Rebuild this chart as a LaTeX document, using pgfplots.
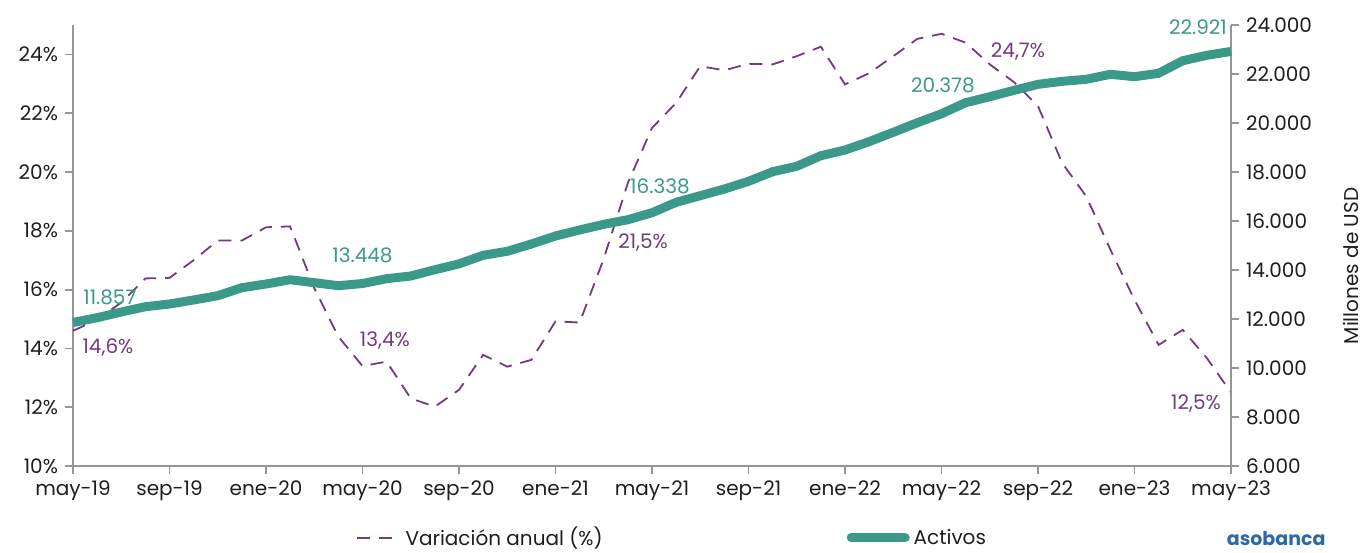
\documentclass[border=0pt]{standalone}
\usepackage{pgfplots}
\pgfplotsset{compat=1.18}
\usepackage{pgfplotstable}
\usepackage{fontspec}
\setmainfont{Poppins}
\usetikzlibrary{calc}
\definecolor{teal1}{RGB}{59,153,138}
\definecolor{purp}{RGB}{112,60,125}
\definecolor{axgray}{RGB}{150,150,150}
\definecolor{txt}{RGB}{30,30,30}
\definecolor{logo}{RGB}{45,105,165}

\pgfplotstableread{
x var act
0 14.60 11857
1 14.97 12053
2 15.56 12286
3 16.38 12502
4 16.40 12612
5 17.00 12776
6 17.67 12951
7 17.67 13278
8 18.12 13429
9 18.15 13604
10 16.05 13482
11 14.40 13359
12 13.40 13448
13 13.55 13645
14 12.30 13755
15 12.02 14012
16 12.59 14250
17 13.78 14600
18 13.38 14763
19 13.61 15061
20 14.92 15388
21 14.88 15633
22 17.05 15865
23 19.63 16053
24 21.50 16338
25 22.35 16763
26 23.60 17033
27 23.46 17306
28 23.68 17620
29 23.66 18012
30 23.94 18233
31 24.26 18665
32 22.98 18898
33 23.36 19240
34 23.94 19620
35 24.53 20012
36 24.70 20378
37 24.40 20829
38 23.66 21073
39 23.06 21333
40 22.24 21578
41 20.31 21700
42 19.17 21784
43 17.36 21988
44 15.65 21890
45 14.12 22029
46 14.63 22543
47 13.67 22763
48 12.50 22921
}\data

\pgfplotsset{
  base/.style={
    scale only axis, width=579pt, height=220.5pt,
    xmin=0, xmax=48, clip=false,
    scaled y ticks=false,
    axis line style={axgray, line width=0.9pt},
    tick style={axgray, line width=0.9pt},
    tick align=outside, major tick length=4pt,
    ticklabel style={font=\fontsize{10}{12}\selectfont, text=txt},
  }
}

\begin{document}
\begin{tikzpicture}
\begin{axis}[base,
  axis y line*=left, axis x line*=bottom,
  ymin=10, ymax=25,
  ytick={10,12,14,16,18,20,22,24},
  yticklabels={10\%,12\%,14\%,16\%,18\%,20\%,22\%,24\%},
  xtick={0,4,...,48},
  xticklabels={may-19,sep-19,ene-20,may-20,sep-20,ene-21,may-21,sep-21,ene-22,may-22,sep-22,ene-23,may-23},
]
\addplot[purp, line width=0.9pt, dash pattern=on 6.5pt off 4.5pt] table[x=x,y=var]{\data};
\begin{scope}[font=\fontsize{10}{12}\selectfont, text=purp]
\node at (axis cs:1.45,14.02) {14,6\%};
\node at (axis cs:12.93,14.26) {13,4\%};
\node at (axis cs:23.63,17.6) {21,5\%};
\node at (axis cs:39.17,24.1) {24,7\%};
\node at (axis cs:46.55,12.11) {12,5\%};
\end{scope}
\end{axis}
\begin{axis}[base,
  axis y line*=right, axis x line=none,
  ymin=6000, ymax=24000,
  ytick={6000,8000,...,24000},
  yticklabels={6.000,8.000,10.000,12.000,14.000,16.000,18.000,20.000,22.000,24.000},
  ylabel={Millones de USD},
  ylabel style={at={(axis description cs:1.104,0.4535)}, anchor=center, font=\fontsize{10}{12}\selectfont, text=txt},
  legend style={at={(rel axis cs:0.518,-0.163)}, anchor=center, draw=none, fill=none,
    font=\fontsize{10}{12}\selectfont, text=txt,
    legend columns=2, /tikz/every even column/.append style={column sep=120pt}},
]
\addlegendimage{legend image code/.code={\draw[purp, line width=0.9pt, dash pattern=on 6.5pt off 4.5pt] (0pt,0pt)--(22pt,0pt);}}
\addlegendentry{Variación anual (\%)}
\addplot[teal1, line width=4.5pt, line join=round, legend image code/.code={\draw[teal1, line width=4.5pt, line cap=round] (0pt,0pt)--(27pt,0pt);}] table[x=x,y=act]{\data};
\addlegendentry{Activos}
\begin{scope}[font=\fontsize{10}{12}\selectfont, text=teal1]
\node at (axis cs:1.53,12898) {11.857};
\node at (axis cs:12.0,14612) {13.448};
\node at (axis cs:24.33,17429) {16.338};
\node at (axis cs:36.06,21551) {20.378};
\node at (axis cs:46.63,23918) {22.921};
\end{scope}
\node[font=\bfseries\fontsize{9.5}{11}\selectfont, text=logo] at (rel axis cs:1.039,-0.165) {asobanca};
\coordinate (bl) at (rel axis cs:0,0);
\coordinate (tr) at (rel axis cs:1,1);
\end{axis}
\pgfresetboundingbox
\path[use as bounding box] ($(bl)+(-36.5pt,-43pt)$) rectangle ($(tr)+(67pt,12.5pt)$);
\end{tikzpicture}
\end{document}
